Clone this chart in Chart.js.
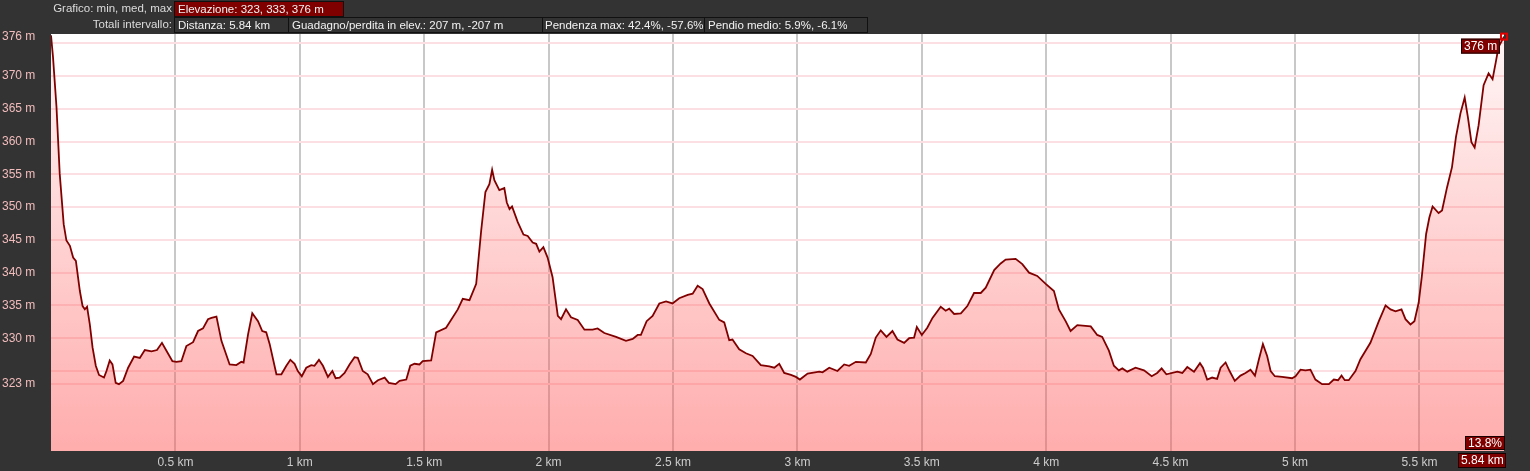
<!DOCTYPE html>
<html>
<head>
<meta charset="utf-8">
<script src="https://cdn.jsdelivr.net/npm/chart.js@4.4.1/dist/chart.umd.min.js"></script>
<style>
  body { margin: 0; background: #333333; font-family: "Liberation Sans", Arial, sans-serif; }
  #wrap { position: relative; width: 1530px; height: 471px; }
  #profile { position: absolute; left: 0; top: 0; }
  .lbl, .box { position: absolute; height: 16px; line-height: 15px; font-size: 11.5px; box-sizing: border-box; white-space: nowrap; }
  .lbl { left: 0; width: 172px; text-align: right; color: #dcdcdc; }
  .box { border: 1px solid #111; color: #f2f2f2; padding-left: 3px; background: #333; }
  .box.red { background: #800000; }
</style>
</head>
<body>
<div id="wrap">
  <canvas id="profile" width="1530" height="471"></canvas>
  <div class="lbl" style="top:1px">Grafico: min, med, max</div>
  <div class="box red" style="top:1px;left:174px;width:170px">Elevazione: 323, 333, 376 m</div>
  <div class="lbl" style="top:17px">Totali intervallo:</div>
  <div class="box" style="top:17px;left:174px;width:115px">Distanza: 5.84 km</div>
  <div class="box" style="top:17px;left:288px;width:255px">Guadagno/perdita in elev.: 207 m, -207 m</div>
  <div class="box" style="top:17px;left:542px;width:163px;padding-left:2px">Pendenza max: 42.4%, -57.6%</div>
  <div class="box" style="top:17px;left:704px;width:164px">Pendio medio: 5.9%, -6.1%</div>
</div>
<script>
// distance along the track (km) and elevation (m)
const distKm = [
  0.000, 0.008, 0.022, 0.035, 0.051, 0.062, 0.076, 0.089, 0.100, 0.116,
  0.127, 0.136, 0.145, 0.156, 0.167, 0.180, 0.193, 0.213, 0.223, 0.236,
  0.247, 0.260, 0.273, 0.290, 0.310, 0.334, 0.357, 0.377, 0.404, 0.426,
  0.446, 0.464, 0.488, 0.504, 0.524, 0.544, 0.571, 0.591, 0.611, 0.631,
  0.645, 0.665, 0.685, 0.718, 0.745, 0.765, 0.774, 0.792, 0.809, 0.832,
  0.849, 0.865, 0.879, 0.906, 0.926, 0.946, 0.962, 0.979, 0.992, 1.008,
  1.026, 1.046, 1.059, 1.077, 1.093, 1.113, 1.131, 1.144, 1.160, 1.180,
  1.200, 1.220, 1.233, 1.253, 1.273, 1.294, 1.314, 1.341, 1.358, 1.385,
  1.401, 1.428, 1.444, 1.461, 1.481, 1.494, 1.528, 1.548, 1.588, 1.635,
  1.655, 1.682, 1.709, 1.729, 1.746, 1.762, 1.773, 1.782, 1.802, 1.822,
  1.832, 1.843, 1.853, 1.876, 1.899, 1.916, 1.936, 1.950, 1.963, 1.979,
  1.996, 2.016, 2.037, 2.050, 2.070, 2.090, 2.117, 2.144, 2.177, 2.197,
  2.224, 2.271, 2.311, 2.338, 2.358, 2.371, 2.394, 2.418, 2.445, 2.472,
  2.498, 2.525, 2.559, 2.579, 2.599, 2.619, 2.646, 2.686, 2.706, 2.726,
  2.739, 2.766, 2.793, 2.820, 2.853, 2.887, 2.907, 2.927, 2.947, 2.974,
  2.994, 3.010, 3.041, 3.088, 3.101, 3.128, 3.161, 3.188, 3.208, 3.235,
  3.275, 3.295, 3.315, 3.335, 3.358, 3.382, 3.402, 3.429, 3.449, 3.469,
  3.480, 3.500, 3.522, 3.543, 3.576, 3.596, 3.610, 3.630, 3.657, 3.683,
  3.710, 3.737, 3.757, 3.791, 3.817, 3.837, 3.877, 3.904, 3.931, 3.964,
  3.998, 4.031, 4.051, 4.078, 4.098, 4.125, 4.179, 4.205, 4.225, 4.252,
  4.272, 4.292, 4.306, 4.326, 4.359, 4.393, 4.424, 4.446, 4.464, 4.483,
  4.527, 4.547, 4.567, 4.594, 4.618, 4.630, 4.647, 4.667, 4.687, 4.701,
  4.721, 4.737, 4.758, 4.781, 4.801, 4.821, 4.839, 4.855, 4.871, 4.888,
  4.902, 4.919, 4.948, 4.988, 5.002, 5.022, 5.042, 5.062, 5.082, 5.109,
  5.136, 5.156, 5.173, 5.187, 5.200, 5.216, 5.243, 5.263, 5.303, 5.337,
  5.364, 5.384, 5.404, 5.428, 5.444, 5.464, 5.480, 5.497, 5.510, 5.527,
  5.540, 5.553, 5.577, 5.591, 5.611, 5.631, 5.647, 5.665, 5.682, 5.695,
  5.709, 5.722, 5.738, 5.758, 5.778, 5.794, 5.807, 5.818, 5.840
];
const elevM = [
  376.2, 372.9, 365.3, 355.1, 347.4, 344.9, 344.1, 342.3, 341.8, 337.2,
  334.9, 334.4, 334.8, 332.1, 328.6, 325.8, 324.4, 324.0, 325.0, 326.6,
  326.0, 323.2, 323.0, 323.5, 325.5, 327.2, 327.0, 328.2, 328.0, 328.2,
  329.3, 328.1, 326.5, 326.4, 326.5, 328.8, 329.4, 331.1, 331.5, 332.9,
  333.1, 333.3, 329.6, 326.0, 325.9, 326.4, 326.3, 330.6, 333.8, 332.6,
  331.1, 330.9, 329.1, 324.5, 324.5, 325.8, 326.7, 326.1, 325.0, 324.2,
  325.5, 325.9, 325.8, 326.7, 325.8, 324.1, 325.0, 323.9, 324.0, 324.7,
  326.0, 327.1, 327.0, 325.0, 324.5, 323.0, 323.6, 324.0, 323.2, 323.0,
  323.5, 323.7, 325.8, 326.1, 326.0, 326.5, 326.6, 330.9, 331.6, 334.4,
  336.0, 335.8, 338.3, 346.4, 352.3, 353.5, 355.7, 354.1, 352.6, 352.9,
  350.7, 349.7, 350.1, 347.7, 345.8, 345.6, 344.6, 344.4, 343.2, 343.9,
  342.3, 339.3, 333.4, 332.9, 334.4, 333.2, 332.8, 331.3, 331.3, 331.5,
  330.8, 330.2, 329.6, 329.9, 330.5, 330.5, 332.6, 333.4, 335.3, 335.6,
  335.3, 336.1, 336.6, 336.8, 338.0, 337.5, 335.3, 332.8, 332.4, 329.7,
  329.8, 328.3, 327.7, 327.3, 325.9, 325.7, 325.5, 326.1, 324.7, 324.4,
  324.1, 323.7, 324.6, 324.9, 324.8, 325.5, 325.0, 326.0, 325.8, 326.4,
  326.3, 327.6, 330.1, 331.2, 330.2, 331.1, 329.8, 329.3, 330.0, 330.1,
  331.7, 330.5, 331.6, 333.1, 334.8, 334.2, 334.5, 333.7, 333.8, 334.9,
  336.9, 336.9, 337.7, 340.4, 341.4, 342.0, 342.1, 341.3, 340.0, 339.5,
  338.3, 337.2, 334.4, 332.6, 331.1, 332.0, 331.8, 330.5, 330.2, 328.1,
  325.8, 325.1, 325.4, 324.9, 325.5, 325.1, 324.2, 324.7, 325.4, 324.5,
  324.9, 324.7, 325.6, 324.9, 326.2, 325.5, 323.7, 324.0, 323.8, 325.5,
  326.3, 325.0, 323.5, 324.3, 324.7, 325.2, 324.3, 326.8, 329.1, 327.3,
  325.0, 324.2, 324.1, 323.9, 324.2, 325.2, 325.1, 325.2, 323.7, 323.0,
  323.0, 323.7, 323.6, 324.3, 323.6, 323.6, 325.0, 326.8, 329.3, 332.6,
  335.0, 334.4, 334.1, 334.4, 332.9, 332.1, 332.6, 335.4, 339.5, 345.9,
  348.4, 350.1, 349.1, 349.5, 353.0, 356.1, 360.7, 364.3, 366.7, 363.7,
  359.9, 359.1, 362.5, 368.6, 370.4, 369.5, 372.1, 374.4, 376.0
];
const xTicks = [0.5, 1, 1.5, 2, 2.5, 3, 3.5, 4, 4.5, 5, 5.5];
const yTicks = [323, 325, 330, 335, 340, 345, 350, 355, 360, 365, 370, 375, 376];
const yUnlabelled = [325, 375];
const maxLabel = '376 m';
const endSlope = '13.8%';
const totalKm = 5.84;

const FONT = '"Liberation Sans", Arial, sans-serif';

function tag(ctx, text, right, top, h) {
  ctx.font = '12px ' + FONT;
  const w = Math.ceil(ctx.measureText(text).width) + 5;
  ctx.fillStyle = '#800000';
  ctx.fillRect(right - w, top, w, h);
  ctx.strokeStyle = '#1a0000';
  ctx.lineWidth = 1;
  ctx.strokeRect(right - w + 0.5, top + 0.5, w - 1, h - 1);
  ctx.fillStyle = '#ffffff';
  ctx.textAlign = 'left';
  ctx.textBaseline = 'middle';
  ctx.fillText(text, right - w + 3, top + h / 2 + 0.5);
}

const decor = {
  id: 'decor',
  beforeDraw(chart) {
    const { ctx, chartArea: a } = chart;
    ctx.save();
    ctx.fillStyle = '#ffffff';
    ctx.fillRect(a.left, a.top, a.right - a.left, a.bottom - a.top);
    ctx.restore();
  },
  afterDraw(chart) {
    const { ctx, chartArea: a, scales } = chart;
    const n = distKm.length - 1;
    const px = scales.x.getPixelForValue(distKm[n]);
    const py = scales.y.getPixelForValue(elevM[n]);
    ctx.save();
    ctx.strokeStyle = '#e00000';
    ctx.lineWidth = 2;
    ctx.strokeRect(px - 3, py - 3, 6, 6);
    tag(ctx, maxLabel, px - 4, py + 2, 15);
    tag(ctx, endSlope, a.right + 1, a.bottom - 15, 14);
    tag(ctx, totalKm.toFixed(2) + ' km', a.right + 2, a.bottom + 2, 15);
    ctx.restore();
  }
};

new Chart(document.getElementById('profile'), {
  type: 'line',
  data: {
    datasets: [{
      data: distKm.map((d, i) => ({ x: d, y: elevM[i] })),
      borderColor: '#800000',
      borderWidth: 1.8,
      pointRadius: 0,
      tension: 0,
      fill: 'start',
      backgroundColor: ctx => {
        const a = ctx.chart.chartArea;
        if (!a) return 'rgba(255,80,80,0.3)';
        const g = ctx.chart.ctx.createLinearGradient(0, a.top, 0, a.bottom);
        g.addColorStop(0, 'rgba(255,80,80,0.05)');
        g.addColorStop(1, 'rgba(255,80,80,0.47)');
        return g;
      }
    }]
  },
  options: {
    responsive: false,
    devicePixelRatio: 1,
    animation: false,
    layout: { padding: { left: 2, top: 34, right: 26, bottom: 0 } },
    plugins: { legend: { display: false }, tooltip: { enabled: false } },
    scales: {
      x: {
        type: 'linear',
        min: 0,
        max: totalKm,
        afterBuildTicks: s => { s.ticks = xTicks.map(v => ({ value: v })); },
        afterFit: s => { s.height = 20; },
        grid: { color: '#c8c8c8', lineWidth: 2, drawTicks: false },
        border: { display: false },
        ticks: {
          color: '#cccccc',
          padding: 4,
          maxRotation: 0,
          font: { family: FONT, size: 12 },
          callback: v => v + ' km'
        }
      },
      y: {
        type: 'linear',
        min: 312.8,
        max: 376.4,
        afterBuildTicks: s => { s.ticks = yTicks.map(v => ({ value: v })); },
        afterFit: s => { s.width = 49; },
        grid: {
          color: c => (c.tick && c.tick.value === 376) ? 'rgba(0,0,0,0)' : '#fcdfe2',
          lineWidth: 2,
          drawTicks: false
        },
        border: { display: false },
        ticks: {
          color: '#f2bcbc',
          crossAlign: 'far',
          padding: 0,
          font: { family: FONT, size: 12 },
          callback: v => yUnlabelled.includes(v) ? '' : v + ' m'
        }
      }
    }
  },
  plugins: [decor]
});
</script>
</body>
</html>
